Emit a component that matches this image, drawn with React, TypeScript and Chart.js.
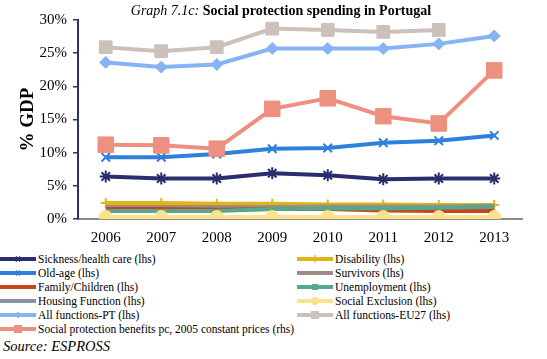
import React, { useEffect, useRef } from "react";
import { Chart, registerables } from "chart.js";

Chart.register(...registerables);

const years = ["2006", "2007", "2008", "2009", "2010", "2011", "2012", "2013"];
const yTickLabels = ["0%", "5%", "10%", "15%", "20%", "25%", "30%"];

const sickness = [6.4, 6.1, 6.1, 6.9, 6.6, 6.0, 6.1, 6.1];
const disability = [2.4, 2.4, 2.3, 2.3, 2.2, 2.2, 2.1, 2.1];
const oldAge = [9.3, 9.3, 9.8, 10.6, 10.7, 11.5, 11.8, 12.6];
const survivors = [1.8, 1.8, 1.8, 1.8, 1.9, 1.9, 1.9, 2.0];
const family = [1.5, 1.5, 1.4, 1.5, 1.5, 1.3, 1.2, 1.2];
const unemployment = [1.2, 1.2, 1.2, 1.5, 1.6, 1.6, 1.7, 1.8];
const housing = [0.05, 0.05, 0.05, 0.05, 0.05, 0.05, 0.05, 0.05];
const socialExclusion = [0.3, 0.3, 0.3, 0.3, 0.3, 0.3, 0.3, 0.3];
const allPT = [23.6, 22.9, 23.3, 25.7, 25.7, 25.7, 26.4, 27.6];
const allEU27 = [25.9, 25.3, 25.9, 28.7, 28.5, 28.2, 28.5, null];
const socProt = [11.2, 11.1, 10.6, 16.6, 18.2, 15.5, 14.4, 22.4];

type S = {
  label: string;
  data: (number | null)[];
  color: string;
  point: string | false;
  radius: number;
};

const series: S[] = [
  { label: "Sickness/health care (lhs)", data: sickness, color: "#2b2e6e", point: "star", radius: 6 },
  { label: "Disability (lhs)", data: disability, color: "#e2b414", point: "cross", radius: 5 },
  { label: "Old-age (lhs)", data: oldAge, color: "#2f80dc", point: "crossRot", radius: 6 },
  { label: "Survivors (lhs)", data: survivors, color: "#9b8e86", point: false, radius: 0 },
  { label: "Family/Children (lhs)", data: family, color: "#c9431b", point: false, radius: 0 },
  { label: "Unemployment (lhs)", data: unemployment, color: "#55a889", point: false, radius: 0 },
  { label: "Housing Function (lhs)", data: housing, color: "#8b8fa6", point: false, radius: 0 },
  { label: "Social Exclusion (lhs)", data: socialExclusion, color: "#fde28c", point: "circle", radius: 6.5 },
  { label: "All functions-PT (lhs)", data: allPT, color: "#86b3f5", point: "rectRot", radius: 6 },
  { label: "All functions-EU27 (lhs)", data: allEU27, color: "#cbc1ba", point: "rect", radius: 9 },
  { label: "Social protection benefits pc, 2005 constant prices (rhs)", data: socProt, color: "#ee9080", point: "rect", radius: 11 },
];

const leftLegend = [0, 2, 4, 6, 8, 10];
const rightLegend = [1, 3, 5, 7, 9];

const SERIF = "'Liberation Serif', 'Times New Roman', serif";

function Marker({ s }: { s: S }) {
  const c = s.color;
  if (s.label.startsWith("Sickness") || s.label.startsWith("Old-age")) {
    return <path d="M16 3.5 L20 8.5 M20 3.5 L16 8.5" stroke={c} strokeWidth={1.5} />;
  }
  if (s.label.startsWith("Disability")) return <path d="M18 2 L18 10" stroke={c} strokeWidth={1.2} />;
  if (s.label.startsWith("Unemployment")) return <rect x={15} y={3} width={6} height={6} fill={c} />;
  if (s.label.startsWith("Social Exclusion")) return <circle cx={18} cy={6} r={4} fill={c} />;
  if (s.label.startsWith("All functions-PT")) return <path d="M18 2.5 L21.5 6 L18 9.5 L14.5 6 Z" fill={c} />;
  if (s.label.startsWith("All functions-EU27")) return <rect x={14} y={2} width={8} height={8} fill={c} />;
  if (s.label.startsWith("Social protection")) return <rect x={14} y={2} width={8} height={8} fill={c} />;
  return null;
}

function LegendItem({ s, x, y }: { s: S; x: number; y: number }) {
  return (
    <div style={{ position: "absolute", left: x, top: y, height: 14, display: "flex", alignItems: "center", whiteSpace: "nowrap" }}>
      <svg width={38} height={12} style={{ display: "block" }}>
        <line x1={0} y1={6} x2={36} y2={6} stroke={s.color} strokeWidth={4} />
        <Marker s={s} />
      </svg>
      <span style={{ fontFamily: SERIF, fontSize: 11.5, color: "#000", marginLeft: 0, lineHeight: "14px" }}>
        {s.label}
      </span>
    </div>
  );
}

export default function App() {
  const ref = useRef<HTMLCanvasElement | null>(null);

  useEffect(() => {
    if (!ref.current) return;
    const n = series.length;
    const chart = new Chart(ref.current, {
      type: "line",
      data: {
        labels: years,
        datasets: series.map((s, i) => ({
          label: s.label,
          data: s.data,
          borderColor: s.color,
          backgroundColor: s.color,
          borderWidth: 4,
          pointStyle: (s.point || "circle") as any,
          pointRadius: s.point ? s.radius : 0,
          pointBorderWidth: s.point === "star" || s.point === "crossRot" || s.point === "cross" ? 2 : 1,
          pointBorderColor: s.color,
          pointBackgroundColor: s.color,
          tension: 0,
          fill: false,
          spanGaps: false,
          order: n - i,
        })),
      },
      options: {
        responsive: false,
        animation: false,
        events: [],
        layout: { padding: { left: 0, right: 25, top: 20, bottom: 0 } },
        plugins: { legend: { display: false }, tooltip: { enabled: false }, title: { display: false } },
        scales: {
          x: {
            offset: true,
            grid: { display: false, drawTicks: false, offset: true },
            border: { display: true, color: "#8c8c8c", width: 2 },
            ticks: {
              color: "#000",
              padding: 10,
              font: { family: SERIF, size: 15 },
              maxRotation: 0,
            },
            afterFit: (scale: any) => {
              scale.height = 31;
            },
          },
          y: {
            min: 0,
            max: 30,
            grid: { drawOnChartArea: false, color: "#2b3270", tickLength: 5, lineWidth: 1.5 },
            border: { display: true, color: "#2b3270", width: 2 },
            ticks: {
              stepSize: 5,
              color: "#000",
              padding: 6,
              font: { family: SERIF, size: 15 },
              callback: (_v: any, i: number) => yTickLabels[i],
            },
            title: {
              display: true,
              text: "% GDP",
              color: "#000",
              font: { family: SERIF, size: 19, weight: "bold" },
              padding: { top: 17, bottom: 0 },
            },
            afterFit: (scale: any) => {
              scale.width = 78;
            },
          },
        },
      },
    });
    return () => chart.destroy();
  }, []);

  return (
    <div style={{ position: "absolute", left: 0, top: 0, width: 547, height: 359, background: "#fff", overflow: "hidden" }}>
      <canvas ref={ref} width={547} height={250} style={{ position: "absolute", left: 0, top: 0, width: 547, height: 250 }} />
      <div
        style={{
          position: "absolute",
          left: 0,
          top: 2,
          width: 562,
          textAlign: "center",
          fontFamily: SERIF,
          fontSize: 14,
          lineHeight: "17px",
          color: "#000",
          whiteSpace: "nowrap",
        }}
      >
        <i>Graph 7.1c:</i> <b>Social protection spending in Portugal</b>
      </div>
      {leftLegend.map((idx, r) => (
        <LegendItem key={idx} s={series[idx]} x={0} y={252 + r * 14} />
      ))}
      {rightLegend.map((idx, r) => (
        <LegendItem key={idx} s={series[idx]} x={297} y={252 + r * 14} />
      ))}
      <div
        style={{
          position: "absolute",
          left: 3,
          top: 338,
          fontFamily: SERIF,
          fontStyle: "italic",
          fontSize: 14.5,
          lineHeight: "17px",
          color: "#000",
        }}
      >
        Source: ESPROSS
      </div>
    </div>
  );
}
